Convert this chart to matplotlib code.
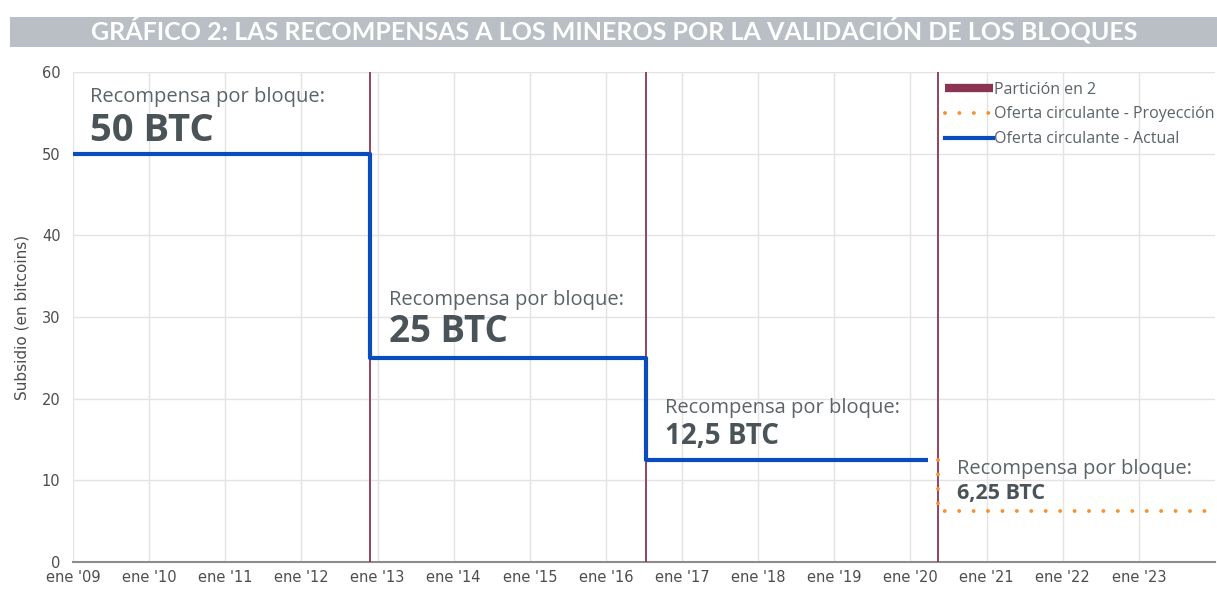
import matplotlib
matplotlib.use("Agg")
import matplotlib.pyplot as plt
from matplotlib.lines import Line2D
from matplotlib.patches import Rectangle

# datos (fechas en años decimales)
years = list(range(2009, 2024))
tick_labels = ["ene '%02d" % (y % 100) for y in years]
halvings = [2012.90, 2016.52, 2020.36]
rewards = [50, 25, 12.5, 6.25]
actual_start = 2009.0
actual_end = 2020.23
projection_end = 2023.93
reward_labels = ["50 BTC", "25 BTC", "12,5 BTC", "6,25 BTC"]

text_gray = "#5b6368"
bold_gray = "#4a5358"
blue = "#0a4bbd"
orange = "#f7902e"
maroon = "#8b3553"
font = "Open Sans"

fig = plt.figure(figsize=(12.17, 5.89), dpi=100)
ax = fig.add_axes([73 / 1217, 1 - 562 / 589, (1215 - 73) / 1217, (562 - 72) / 589])

# banda del título
fig.patches.append(Rectangle((10 / 1217, 1 - 47 / 589), 1, 30 / 589,
                             transform=fig.transFigure, facecolor="#b9bfc4",
                             edgecolor="none", zorder=0))
fig.text(614 / 1217, 1 - 31 / 589,
         "GRÁFICO 2: LAS RECOMPENSAS A LOS MINEROS POR LA VALIDACIÓN DE LOS BLOQUES",
         ha="center", va="center", color="white", fontsize=18,
         fontweight="bold", family="Lato")

# serie actual (escalones)
xs = [actual_start]
ys = [rewards[0]]
for i, h in enumerate(halvings[:2]):
    xs += [h, h]
    ys += [rewards[i], rewards[i + 1]]
xs.append(actual_end)
ys.append(rewards[2])
ax.plot(xs, ys, color=blue, lw=3, solid_capstyle="butt", zorder=4)

# proyección
px = [halvings[2], halvings[2], projection_end]
py = [rewards[2], rewards[3], rewards[3]]
ax.plot(px, py, color=orange, lw=2.8, linestyle=(0, (0.01, 3.7)),
        dash_capstyle="round", zorder=4)

# particiones
for h in halvings:
    ax.axvline(h, color=maroon, lw=1.3, zorder=3)

# anotaciones
starts = [actual_start + 0.22, halvings[0] + 0.25, halvings[1] + 0.25, halvings[2] + 0.25]
label_y = [(97, 131, 27.5), (300, 332, 26.5), (408, 436, 20), (469, 493, 15.5)]
for x0, (ty, by, fs), lab in zip(starts, label_y, reward_labels):
    ax.text(x0, 60 - (ty - 72) / (490 / 60), "Recompensa por bloque:",
            color=text_gray, fontsize=14.5, family=font,
            va="center", ha="left")
    ax.text(x0, 60 - (by - 72) / (490 / 60), lab, color=bold_gray,
            fontsize=fs, fontweight="bold", family=font, va="center", ha="left")

ax.set_xlim(2009, 2024)
ax.set_ylim(0, 60)
ax.set_xticks(years)
ax.set_xticklabels(tick_labels)
ax.set_yticks(range(0, 61, 10))
ax.grid(True, color="#e3e3e3", lw=1)
ax.set_axisbelow(True)
for s in ["top", "right", "left"]:
    ax.spines[s].set_visible(False)
ax.spines["bottom"].set_color("#8c8c8c")
ax.spines["bottom"].set_linewidth(1.5)
ax.tick_params(axis="both", length=0, labelsize=10.5, colors="#4d4d4d")
ax.tick_params(axis="x", pad=6)
ax.tick_params(axis="y", pad=9)
ax.set_ylabel("Subsidio (en bitcoins)", fontsize=11, color="#4d4d4d", labelpad=9)

handles = [
    Line2D([], [], color=maroon, lw=6, solid_capstyle="butt"),
    Line2D([], [], color=orange, lw=2.8, linestyle=(0, (0.01, 3.7)), dash_capstyle="round"),
    Line2D([], [], color=blue, lw=3),
]
labels = ["Partición en 2", "Oferta circulante - Proyección", "Oferta circulante - Actual"]
leg = ax.legend(handles, labels, loc="upper left", bbox_to_anchor=(0.755, 1.0),
                frameon=False, fontsize=11.5, handlelength=3.0, handletextpad=0.1,
                labelspacing=0.55, borderaxespad=0.2)
for t in leg.get_texts():
    t.set_color(text_gray)
    t.set_family(font)

fig.savefig("out.png", dpi=100, facecolor="white")
